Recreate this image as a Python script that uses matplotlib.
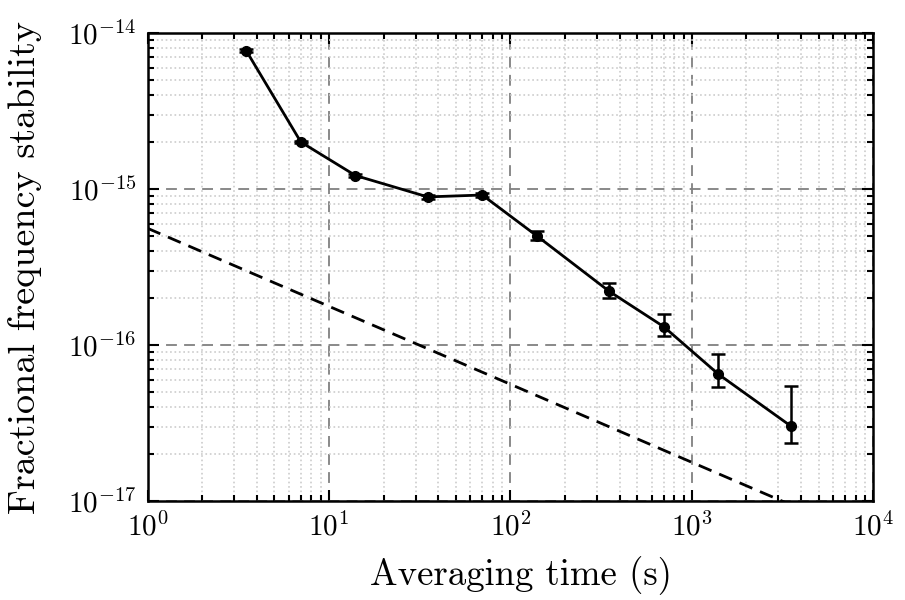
import numpy as np
import matplotlib
matplotlib.use("Agg")
import matplotlib.pyplot as plt
from matplotlib.ticker import LogLocator, NullFormatter

# measured stability points
tau = [3.5, 7, 14, 35, 70, 140, 350, 700, 1400, 3500]
adev = [7.7e-15, 2.0e-15, 1.22e-15, 8.9e-16, 9.15e-16, 5.0e-16, 2.21e-16, 1.31e-16, 6.5e-17, 3.03e-17]
err_lo = [1.5e-16, 4e-17, 3e-17, 2.5e-17, 2.5e-17, 3.2e-17, 2.2e-17, 1.6e-17, 1.1e-17, 0.69e-17]
err_hi = [1.5e-16, 4e-17, 3e-17, 2.5e-17, 2.5e-17, 3.5e-17, 2.8e-17, 2.8e-17, 2.2e-17, 2.4e-17]

# reference (dashed) line
ref_tau = [1, 10, 100, 1000, 10000]
ref_adev = [5.6e-16, 1.77e-16, 5.6e-17, 1.77e-17, 5.6e-18]

plt.rcParams['font.family'] = 'serif'
plt.rcParams['font.serif'] = ['cmr10']
plt.rcParams['mathtext.fontset'] = 'cm'
plt.rcParams['axes.formatter.use_mathtext'] = True
plt.rcParams['axes.unicode_minus'] = False

fig, ax = plt.subplots(figsize=(9.05, 6.0), dpi=100)
fig.subplots_adjust(left=0.163, right=0.965, top=0.945, bottom=0.165)

ax.errorbar(tau, adev, yerr=[err_lo, err_hi], color='black', marker='o',
            markersize=7, linewidth=2, elinewidth=1.8, capsize=5, capthick=1.8)
ax.plot(ref_tau, ref_adev, color='black', linestyle=(0, (5, 3)), linewidth=2)

ax.set_xscale('log')
ax.set_yscale('log')
ax.set_xlim(1, 1e4)
ax.set_ylim(1e-17, 1e-14)

ax.xaxis.set_minor_locator(LogLocator(base=10, subs=np.arange(2, 10)))
ax.yaxis.set_minor_locator(LogLocator(base=10, subs=np.arange(2, 10)))
ax.xaxis.set_minor_formatter(NullFormatter())
ax.yaxis.set_minor_formatter(NullFormatter())

ax.grid(True, which='major', color='gray', linestyle=(0, (6, 4)), linewidth=1.3)
ax.grid(True, which='minor', color='#cccccc', linestyle=':', linewidth=1.2)

ax.tick_params(which='both', direction='in', top=True, right=True, width=1.5)
ax.tick_params(which='major', length=8, labelsize=21, pad=8)
ax.tick_params(which='minor', length=4)
for s in ax.spines.values():
    s.set_linewidth(1.8)

ax.set_xlabel('Averaging time (s)', fontsize=26.5)
ax.set_ylabel('Fractional frequency stability', fontsize=27.5)
ax.xaxis.set_label_coords(0.515, -0.118)
ax.yaxis.set_label_coords(-0.145, 0.5)

fig.savefig('out.png', dpi=100)
